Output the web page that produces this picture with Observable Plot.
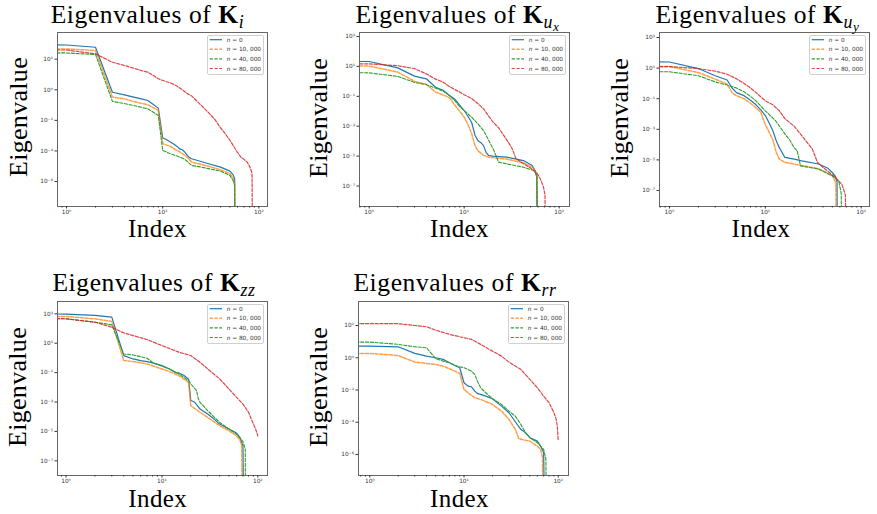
<!DOCTYPE html>
<html><head><meta charset="utf-8">
<script src="https://cdn.jsdelivr.net/npm/d3@7"></script>
<script src="https://cdn.jsdelivr.net/npm/@observablehq/plot@0.6"></script>
<style>
html,body{margin:0;padding:0;background:#fff;}
#root{position:relative;width:877px;height:514px;overflow:hidden;font-family:"Liberation Serif","Times New Roman",serif;color:#000;}
.anchor{position:absolute;width:0;height:0;transform-origin:0 0;}
.lbl{position:absolute;left:0;top:0;white-space:nowrap;line-height:1;transform:translate(-50%,-0.8375em);}
.sub{font-size:0.7em;position:relative;top:0.28em;}
.sub2{font-size:0.75em;position:relative;top:0.22em;}
.legend{position:absolute;box-sizing:border-box;border:1px solid #d0d0d0;border-radius:2px;background:rgba(255,255,255,0.85);}
</style></head>
<body><div id="root"></div>
<script>
// ---- data: [index, log10(eigenvalue)] (index 0.5 stands for the clipped index 0) ----
const Ki_n0   = [[0.5,2.94],[1,2.93],[2,2.78],[3,-0.16],[4,-0.33],[5,-0.48],[6,-0.6],[7,-0.7],[8,-0.96],[9,-1.2],[10,-3.14],[11,-3.27],[12,-3.42],[13,-3.55],[14,-3.69],[15,-3.87],[16,-3.92],[17,-4.08],[18,-4.29],[19,-4.44],[20,-4.51],[25,-4.69],[30,-4.84],[40,-5.06],[50,-5.32],[54,-5.55],[56,-5.82],[56.6,-12]];
const Ki_n10k = [[0.5,2.68],[1,2.67],[2,2.57],[3,-0.48],[4,-0.59],[5,-0.77],[7,-0.98],[9,-1.35],[10,-3.53],[12,-3.7],[14,-3.97],[15,-4.05],[17,-4.29],[18,-4.4],[20,-4.73],[25,-4.88],[30,-5.0],[40,-5.23],[50,-5.49],[54,-5.75],[56,-6.14],[56.6,-12]];
const Ki_n40k = [[0.5,2.42],[1,2.41],[2,2.31],[3,-0.76],[4,-0.9],[5,-1.03],[7,-1.24],[9,-1.68],[10,-3.97],[12,-4.18],[15,-4.4],[17,-4.55],[20,-4.95],[25,-5.05],[30,-5.16],[40,-5.32],[50,-5.6],[54,-5.93],[56,-6.25],[56.6,-12]];
const Ki_n80k = [[0.5,2.61],[1,2.6],[2,2.35],[3,1.8],[4,1.59],[5,1.41],[6,1.25],[7,1.15],[8,0.93],[9,0.72],[10,0.61],[12,0.45],[14,0.25],[16,0.0],[18,-0.25],[20,-0.4],[25,-1.0],[30,-1.5],[35,-1.95],[40,-2.5],[45,-2.9],[50,-3.3],[60,-4.1],[65,-4.4],[70,-4.55],[76,-4.75],[80,-5.0],[85,-5.45],[86,-12]];

const Kux_n0   = [[0.5,1.33],[1,1.33],[2,0.9],[3,0.35],[4,0.17],[5,-0.39],[6,-0.6],[7,-0.94],[8,-1.2],[9,-1.6],[10,-1.95],[11,-2.35],[12,-2.75],[13,-3.6],[14,-3.98],[15,-4.1],[16,-4.3],[17,-4.75],[18,-4.95],[20,-5.0],[28,-5.07],[42,-5.3],[52,-5.63],[56,-6.0],[58,-6.4],[58.6,-12]];
const Kux_n10k = [[0.5,1.02],[1,1.02],[2,0.62],[3,0.0],[4,-0.2],[5,-0.72],[6,-0.9],[7,-1.1],[8,-1.6],[9,-2.0],[10,-2.4],[11,-2.9],[12,-3.5],[13,-4.3],[14,-4.65],[16,-4.95],[18,-5.07],[28,-5.2],[42,-5.45],[54,-5.8],[58.6,-6.3],[59.5,-12]];
const Kux_n40k = [[0.5,0.58],[1,0.57],[2,0.33],[3,-0.07],[4,-0.22],[5,-0.45],[6,-0.65],[7,-0.95],[8,-1.3],[9,-1.7],[10,-1.95],[12,-2.4],[14,-2.85],[16,-3.3],[17,-3.6],[19,-4.2],[20.5,-4.6],[22,-5.1],[23,-5.4],[28,-5.52],[42,-5.74],[54,-5.96],[58.5,-6.3],[60,-12]];
const Kux_n80k = [[0.5,1.18],[1,1.17],[2,1.05],[3,0.85],[4,0.5],[5,0.15],[6,-0.05],[7,-0.35],[8,-0.55],[9,-0.72],[10,-0.9],[12,-1.15],[14,-1.5],[16,-1.84],[18,-2.3],[20,-2.7],[23,-3.1],[26,-3.6],[30,-4.2],[32,-4.5],[35,-5.15],[42,-5.5],[50,-5.8],[58,-6.1],[63,-6.5],[68,-7.0],[71,-7.6],[71.5,-12]];

const Kuy_n0   = [[0.5,1.41],[1,1.4],[2,0.97],[3,0.5],[4,0.22],[4.5,-0.3],[5,-0.6],[6,-0.8],[7,-1.1],[8,-1.4],[9,-1.75],[10,-2.1],[11,-2.6],[12,-3.1],[13,-3.75],[14,-4.2],[16,-4.84],[20,-4.95],[24,-5.06],[36,-5.27],[45,-5.55],[50,-5.82],[54,-6.1],[56,-6.4],[56.5,-12]];
const Kuy_n10k = [[0.5,1.1],[1,1.1],[2,0.71],[3,0.28],[4,-0.05],[4.5,-0.6],[5,-0.8],[6,-1.0],[7,-1.3],[8,-1.6],[9,-1.9],[10,-2.7],[11,-3.2],[12,-3.7],[13,-4.5],[14,-4.95],[16,-5.16],[24,-5.36],[36,-5.58],[50,-6.04],[54.5,-6.5],[55,-12]];
const Kuy_n40k = [[0.5,0.77],[1,0.76],[2,0.5],[3,0.1],[4,-0.11],[5,-0.3],[6,-0.55],[7,-0.85],[8,-1.15],[10,-1.79],[12.8,-2.44],[16,-3.3],[18,-3.7],[20,-4.2],[21.5,-4.4],[23.3,-5.39],[36,-5.6],[50,-6.04],[58.5,-6.4],[62,-7.2],[62.5,-12]];
const Kuy_n80k = [[0.5,1.1],[1,1.1],[2,0.97],[3,0.8],[4,0.6],[5,0.3],[6,0.0],[7,-0.3],[8,-0.6],[10,-1.14],[12,-1.4],[14,-1.79],[16,-2.3],[20,-2.8],[24,-3.42],[31,-4.3],[35,-5.17],[42,-5.6],[54,-6.15],[63,-6.6],[68.5,-7.3],[70,-12]];

const Kzz_n0   = [[0.5,3.0],[1,2.98],[2,2.89],[3,2.77],[4,0.16],[5,-0.07],[6,-0.18],[7,-0.25],[8,-0.34],[10,-0.52],[12,-0.75],[14,-1.0],[15,-1.02],[17,-1.2],[19,-1.45],[20,-2.9],[22,-3.02],[25,-3.48],[30,-3.82],[35,-4.16],[40,-4.5],[50,-4.84],[60,-5.11],[65,-5.4],[70,-5.98],[71.5,-12]];
const Kzz_n10k = [[0.5,2.82],[1,2.82],[2,2.66],[3,2.48],[4,-0.18],[5,-0.25],[7,-0.41],[10,-0.75],[12,-0.93],[15,-1.2],[19,-1.66],[20,-3.25],[25,-3.7],[30,-4.05],[40,-4.61],[50,-4.95],[60,-5.3],[65,-5.57],[68,-5.98],[69.5,-12]];
const Kzz_n40k = [[0.5,2.66],[1,2.66],[2,2.43],[3,2.25],[4,0.27],[5,0.2],[7,-0.02],[8,-0.3],[10,-0.57],[12,-0.75],[15,-1.09],[19,-1.55],[20,-1.77],[23,-2.23],[24,-2.8],[25,-3.02],[30,-3.59],[40,-4.39],[50,-4.84],[60,-5.18],[70,-5.7],[74,-6.2],[74.5,-12]];
const Kzz_n80k = [[0.5,2.7],[1,2.66],[2,2.43],[3,2.09],[4,1.7],[5,1.52],[7,1.25],[10,0.84],[15,0.39],[20,0.16],[25,-0.3],[30,-0.75],[40,-1.43],[50,-2.11],[60,-2.68],[70,-3.14],[80,-3.7],[90,-4.5],[95,-4.85],[100,-5.3]];

const Krr_n0   = [[0.5,0.72],[1,0.72],[2,0.68],[3,0.27],[4,0.1],[5,0.0],[6,-0.1],[7,-0.31],[8,-0.48],[9,-0.62],[10,-1.55],[11,-1.76],[12,-1.8],[13,-2.07],[14,-2.23],[15,-2.27],[17,-2.38],[20,-2.54],[25,-3.0],[30,-3.41],[35,-3.97],[40,-4.44],[45,-4.65],[50,-4.96],[60,-5.17],[65,-5.48],[70,-5.89],[72.5,-12]];
const Krr_n10k = [[0.5,0.27],[1,0.27],[2,0.14],[3,-0.27],[4,-0.35],[5,-0.41],[6,-0.52],[7,-0.68],[8,-0.83],[9,-0.97],[10,-1.96],[11,-2.17],[12,-2.33],[13,-2.48],[15,-2.58],[20,-2.89],[25,-3.31],[30,-3.82],[35,-4.44],[38,-5.0],[40,-5.06],[50,-5.17],[60,-5.48],[65,-5.68],[68,-6.2],[69.5,-12]];
const Krr_n40k = [[0.5,0.97],[1,0.97],[2,0.83],[3,0.68],[4,0.62],[5,-0.06],[6,-0.21],[7,-0.31],[8,-0.48],[9,-0.56],[10,-0.62],[12,-0.83],[13,-1.03],[14,-1.51],[15,-1.86],[17,-2.17],[20,-2.54],[25,-2.89],[30,-3.31],[35,-3.62],[40,-4.13],[45,-4.65],[50,-4.96],[60,-5.27],[70,-5.68],[74,-6.3],[75.5,-12]];
const Krr_n80k = [[0.5,2.11],[1,2.11],[2,2.11],[3,2.0],[4,1.92],[5,1.71],[7,1.45],[10,1.24],[12,1.14],[15,0.83],[20,0.41],[25,0.1],[30,-0.27],[40,-0.72],[50,-1.34],[60,-1.86],[70,-2.38],[80,-2.79],[90,-3.41],[95,-3.8],[98,-4.3],[100,-5.17]];

// tick values (powers of ten)
const xMajorExp = [0, 1, 2];
const yExpOdd  = [3, 1, -1, -3, -5, -7];
const yExpEven = [2, 0, -2, -4, -6];

const seriesLabels = ["0", "10, 000", "40, 000", "80, 000"];
const seriesKeys = ["n0", "n10k", "n40k", "n80k"];

// ---- styles ----
const seriesStyle = [
  {color:"#1f77b4", dash:null,      width:1.2, opacity:1},
  {color:"#ff7f0e", dash:"3.2,1.6", width:1.5, opacity:0.75},
  {color:"#2ca02c", dash:"3.2,1.6", width:1.1, opacity:1},
  {color:"#d62728", dash:"3.2,1.6", width:1.2, opacity:0.85}
];

const panels = [
  {sub:'<i>i</i>', frame:[57,32,267,206], xlog:[-0.094,2.09], ylog:[-7.635,3.746], yExp:yExpEven,
   data:{n0:Ki_n0,n10k:Ki_n10k,n40k:Ki_n40k,n80k:Ki_n80k}, title:[147.5,23.2], ylab:[28,117], xlab:[157.5,237.2]},
  {sub:'<i>u</i><span class="sub2"><i>x</i></span>', frame:[359,32,569,206], xlog:[-0.102,2.109], ylog:[-8.37,3.268], yExp:yExpOdd,
   data:{n0:Kux_n0,n10k:Kux_n10k,n40k:Kux_n40k,n80k:Kux_n80k}, title:[457.5,23.2], ylab:[327.5,117.5], xlab:[459.5,237.2]},
  {sub:'<i>u</i><span class="sub2"><i>y</i></span>', frame:[659,32,869,206], xlog:[-0.104,2.087], ylog:[-8.046,3.327], yExp:yExpOdd,
   data:{n0:Kuy_n0,n10k:Kuy_n10k,n40k:Kuy_n40k,n80k:Kuy_n80k}, title:[757.5,23.2], ylab:[629,117.5], xlab:[761,237.2]},
  {sub:'<i>zz</i>', frame:[57,301,267,475], xlog:[-0.089,2.101], ylog:[-7.997,3.837], yExp:yExpOdd,
   data:{n0:Kzz_n0,n10k:Kzz_n10k,n40k:Kzz_n40k,n80k:Kzz_n80k}, title:[154,291], ylab:[26.5,386.7], xlab:[157.8,506.5]},
  {sub:'<i>rr</i>', frame:[358,301,568,475], xlog:[-0.12,2.109], ylog:[-7.302,3.488], yExp:yExpEven,
   data:{n0:Krr_n0,n10k:Krr_n10k,n40k:Krr_n40k,n80k:Krr_n80k}, title:[455,291], ylab:[328,386.7], xlab:[459.5,506.5]}
];

const root = document.getElementById("root");
const supMap = {"-":"\u207B","0":"\u2070","1":"\u00B9","2":"\u00B2","3":"\u00B3","4":"\u2074","5":"\u2075","6":"\u2076","7":"\u2077","8":"\u2078","9":"\u2079"};
const fmt = d => "10" + String(Math.round(Math.log10(d))).split("").map(c => supMap[c]).join("");

function addText(html, x, y, size, rotate, extra) {
  const a = document.createElement("div");
  a.className = "anchor";
  a.style.left = x + "px"; a.style.top = y + "px";
  if (rotate) a.style.transform = "rotate(-90deg)";
  const l = document.createElement("div");
  l.className = "lbl";
  l.style.fontSize = size + "px";
  if (extra) l.style.letterSpacing = extra;
  l.innerHTML = html;
  a.appendChild(l);
  root.appendChild(a);
}

function makePanel(p) {
  const [x0,y0,x1,y1] = p.frame;
  const mL = 45, mR = 6, mT = 5, mB = 22;
  const W = x1 - x0 + mL + mR, H = y1 - y0 + mT + mB;
  const xd = [10 ** p.xlog[0], 10 ** p.xlog[1]];
  const yd = [10 ** p.ylog[0], 10 ** p.ylog[1]];
  const minor = [];
  for (const k of [-1,0,1,2]) for (let m = 2; m <= 9; m++) { const t = m * 10 ** k; if (t >= xd[0] && t <= xd[1]) minor.push(t); }
  const lines = seriesKeys.map((key, j) => {
    const s = seriesStyle[j];
    const rows = p.data[key].map(([i, lv]) => ({i, v: 10 ** lv}));
    return Plot.line(rows, {x:"i", y:"v", stroke:s.color, strokeWidth:s.width, strokeOpacity:s.opacity,
      strokeDasharray:s.dash || undefined, clip:true, curve:"linear"});
  });
  const svg = Plot.plot({
    width: W, height: H, marginLeft: mL, marginRight: mR, marginTop: mT, marginBottom: mB,
    x: {type:"log", domain: xd, label: null},
    y: {type:"log", domain: yd, label: null},
    style: {background:"transparent", fontFamily:"DejaVu Sans", fontSize:"5.8px", color:"#333", overflow:"visible"},
    marks: [
      ...lines,
      Plot.frame({stroke:"#666", strokeWidth:1}),
      Plot.axisX({ticks: minor, tickSize: 1.5, fill: "none", label: null}),
      Plot.axisX({ticks: xMajorExp.map(e => 10 ** e), tickSize: 2.5, tickPadding: 0.8, tickFormat: fmt, label: null}),
      Plot.axisY({ticks: p.yExp.map(e => 10 ** e), tickSize: 2.5, tickPadding: 2, tickFormat: fmt, label: null})
    ]
  });
  svg.style.position = "absolute";
  svg.style.left = (x0 - mL) + "px";
  svg.style.top = (y0 - mT) + "px";
  svg.style.maxWidth = "none";
  root.appendChild(svg);

  // legend
  const lw = 57, lh = 40;
  const lg = document.createElement("div");
  lg.className = "legend";
  lg.style.left = (x1 - 3.5 - lw) + "px";
  lg.style.top = (y0 + 3) + "px";
  lg.style.width = lw + "px"; lg.style.height = lh + "px";
  const ns = "http://www.w3.org/2000/svg";
  const ls = document.createElementNS(ns, "svg");
  ls.setAttribute("width", lw); ls.setAttribute("height", lh);
  ls.style.position = "absolute"; ls.style.left = "-1px"; ls.style.top = "-1px";
  seriesKeys.forEach((key, j) => {
    const s = seriesStyle[j];
    const yy = 4.7 + 9.6 * j;
    const ln = document.createElementNS(ns, "line");
    ln.setAttribute("x1", 2.7); ln.setAttribute("x2", 15); ln.setAttribute("y1", yy); ln.setAttribute("y2", yy);
    ln.setAttribute("stroke", s.color); ln.setAttribute("stroke-width", s.width); ln.setAttribute("stroke-opacity", s.opacity);
    if (s.dash) ln.setAttribute("stroke-dasharray", s.dash);
    ls.appendChild(ln);
    const tx = document.createElementNS(ns, "text");
    tx.setAttribute("x", 19.7); tx.setAttribute("y", yy + 2.1);
    tx.setAttribute("font-family", "DejaVu Sans"); tx.setAttribute("font-size", "5.8"); tx.setAttribute("fill", "#333");
    const tn = document.createElementNS(ns, "tspan"); tn.setAttribute("font-style", "italic"); tn.textContent = "n";
    tx.appendChild(tn);
    tx.appendChild(document.createTextNode(" = " + seriesLabels[j]));
    ls.appendChild(tx);
  });
  lg.appendChild(ls);
  root.appendChild(lg);

  addText('Eigenvalues of <b>K</b><span class="sub">' + p.sub + '</span>', p.title[0], p.title[1], 25.5, false, "0.6px");
  addText('Eigenvalue', p.ylab[0], p.ylab[1], 26, true, "0.3px");
  addText('Index', p.xlab[0], p.xlab[1], 25, false, "0.4px");
}

panels.forEach(makePanel);
</script>
</body></html>
